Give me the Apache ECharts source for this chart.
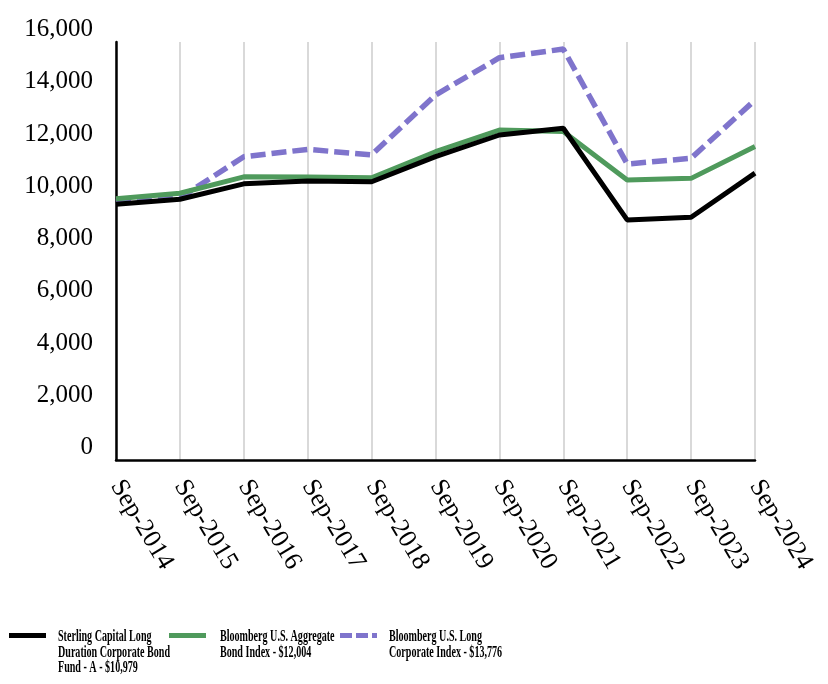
<!DOCTYPE html>
<html>
<head>
<meta charset="utf-8">
<script src="https://cdn.jsdelivr.net/npm/echarts@6/dist/echarts.min.js"></script>
<style>html,body{margin:0;padding:0;background:#fff}#c{width:828px;height:684px}</style>
</head>
<body>
<div id="c"></div>
<script>
const categories = ['Sep-2014','Sep-2015','Sep-2016','Sep-2017','Sep-2018','Sep-2019','Sep-2020','Sep-2021','Sep-2022','Sep-2023','Sep-2024'];
const sterlingName = 'Sterling Capital Long Duration Corporate Bond Fund - A - $10,979';
const aggregateName = 'Bloomberg U.S. Aggregate Bond Index - $12,004';
const longCorpName = 'Bloomberg U.S. Long Corporate Index - $13,776';
const sterling = [9790, 9980, 10570, 10680, 10650, 11610, 12440, 12700, 9190, 9290, 10979];
const aggregate = [10000, 10210, 10840, 10830, 10800, 11800, 12630, 12570, 10720, 10780, 12004];
const longCorp = [9880, 10030, 11610, 11890, 11680, 13970, 15400, 15730, 11330, 11550, 13776];
const legendLines = [
  ['Sterling Capital Long', 'Duration Corporate Bond', 'Fund - A - $10,979'],
  ['Bloomberg U.S. Aggregate', 'Bond Index - $12,004'],
  ['Bloomberg U.S. Long', 'Corporate Index - $13,776']
];

const colors = {sterling: '#000000', aggregate: '#4f9a5c', longCorp: '#7f74cc'};
const serif = "'Liberation Serif', 'Times New Roman', serif";

// Legend drawn as real text (condensed bold serif like the original)
const legendSpec = [
  {iconX: 9, textX: 58, color: colors.sterling, dash: null},
  {iconX: 169, textX: 220, color: colors.aggregate, dash: null},
  {iconX: 340, textX: 389, color: colors.longCorp, dash: [12, 4]}
];
const legendGraphics = [];
legendSpec.forEach((s, i) => {
  legendGraphics.push({
    type: 'line', silent: true,
    shape: {x1: s.iconX, y1: 635.5, x2: s.iconX + 37, y2: 635.5},
    style: {stroke: s.color, lineWidth: 5, lineDash: s.dash || null, lineCap: 'butt'}
  });
  legendGraphics.push({
    type: 'text', silent: true, x: s.textX, y: 629, scaleX: 0.63, scaleY: 1,
    style: {
      text: legendLines[i].join('\n'), x: 0, y: 0,
      fontFamily: serif, fontWeight: 'bold', fontSize: 16,
      lineHeight: 15.6, fill: '#000', verticalAlign: 'top', align: 'left'
    }
  });
});

const chart = echarts.init(document.getElementById('c'), null, {renderer: 'canvas'});
chart.setOption({
  animation: false,
  backgroundColor: '#fff',
  grid: {left: 116, right: 73, top: 42, bottom: 224, containLabel: false},
  graphic: legendGraphics,
  xAxis: {
    type: 'category', data: categories, boundaryGap: false,
    axisLine: {show: true, lineStyle: {color: '#000', width: 2.5}},
    axisTick: {show: false},
    splitLine: {show: true, lineStyle: {color: '#d9d9d9', width: 2}},
    axisLabel: {rotate: -59, margin: 22, fontFamily: serif, fontSize: 26, color: '#000', interval: 0}
  },
  yAxis: {
    type: 'value', min: 0, max: 16000, interval: 2000,
    axisLine: {show: true, lineStyle: {color: '#000', width: 2.5}},
    axisTick: {show: false},
    splitLine: {show: false},
    axisLabel: {
      margin: 23, fontFamily: serif, fontSize: 25, color: '#000',
      verticalAlign: 'bottom', lineHeight: 25,
      formatter: v => v.toLocaleString('en-US')
    }
  },
  series: [
    {name: longCorpName, type: 'line', data: longCorp, symbol: 'none', z: 2,
     lineStyle: {color: colors.longCorp, width: 5.5, type: [15, 6], cap: 'butt'}, itemStyle: {color: colors.longCorp}},
    {name: aggregateName, type: 'line', data: aggregate, symbol: 'none', z: 3,
     lineStyle: {color: colors.aggregate, width: 5}, itemStyle: {color: colors.aggregate}},
    {name: sterlingName, type: 'line', data: sterling, symbol: 'none', z: 4,
     lineStyle: {color: colors.sterling, width: 5}, itemStyle: {color: colors.sterling}}
  ]
});
</script>
</body>
</html>
